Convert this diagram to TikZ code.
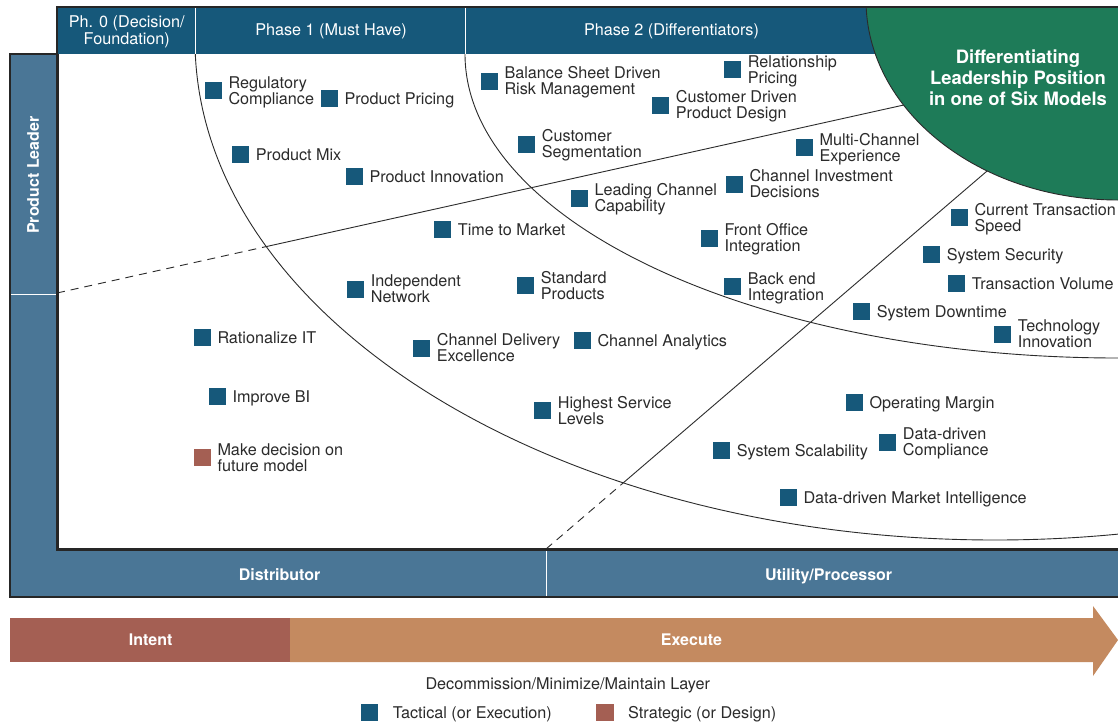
\documentclass[tikz,border=0pt]{standalone}
\usepackage{fontspec}
\setmainfont{TeX Gyre Heros}
\usetikzlibrary{calc}
\definecolor{hdr}{HTML}{16587A}
\definecolor{barc}{HTML}{4A7696}
\definecolor{grn}{HTML}{1E7B58}
\definecolor{tac}{HTML}{16587A}
\definecolor{strat}{HTML}{A45F53}
\definecolor{exe}{HTML}{C48A60}
\definecolor{ink}{HTML}{2B2B2B}
\definecolor{framec}{HTML}{262626}
\newcommand\lblfont{\fontsize{16.2}{16}\selectfont}
\newcommand\bdfont{\bfseries\fontsize{16}{16}\selectfont}
\newcommand\twoline[2]{\raisebox{8.2pt}{\vtop{\baselineskip=15.8pt\hbox{#1}\hbox{#2}}}}
\newcommand\ctwo[3]{\vtop{\baselineskip=#1\hbox to 200pt{\hfil#2\hfil}\hbox to 200pt{\hfil#3\hfil}}}
\newcommand\sqitem[5]{%
  \node[sq,fill=#4] (#1) at (#2,#3) {};
  \node[lbl] (#1-l) at ([xshift=15pt,yshift=-5.7pt]#1.center) {#5};}
\begin{document}
\begin{tikzpicture}[x=1pt,y=-1pt,
  sq/.style={rectangle,inner sep=0pt,minimum size=16.7pt,draw=none},
  lbl/.style={anchor=base west,inner sep=0pt,text=ink,font=\lblfont},
  hd/.style={anchor=base,inner sep=0pt,text=white,font=\lblfont},
  bd/.style={anchor=base,inner sep=0pt,text=white,font=\bdfont},
  region/.style={draw=ink,line width=0.9pt},
  dashedregion/.style={draw=ink,line width=0.9pt,dash pattern=on 8pt off 6pt},
  frameline/.style={draw=framec,line width=2.2pt},
  divider/.style={draw=white,line width=1pt}]
\fill[white] (0,0) rectangle (1118,723);
\useasboundingbox (0,0) rectangle (1118,723);
% bars
\fill[hdr] (57,7) rectangle (1118,54);
\fill[barc] (10,54) rectangle (57,597);
\fill[barc] (10,549) rectangle (1118,597);
% phase curves
\begin{scope}
  \clip (57,54) rectangle (1118,549);
  \draw[region] (995,40) ellipse [x radius=800pt, y radius=500pt];
  \draw[region] (1118,54) ellipse [x radius=653pt, y radius=304pt];
\end{scope}
% axis lines
\coordinate (cA) at (57,293);
\coordinate (cX) at (267,246.4);
\coordinate (cE) at (920,101.4);
\coordinate (dA) at (546,549);
\coordinate (dX) at (624,482.2);
\coordinate (dE) at (1000,159.9);
\draw[dashedregion] (cA) -- (cX);
\draw[region] (cX) -- (cE);
\draw[dashedregion] (dA) -- (dX);
\draw[region] (dX) -- (dE);
% green goal
\begin{scope}
  \clip (57,7.5) rectangle (1118,549);
  \draw[fill=grn,draw=ink,line width=0.9pt] (1118,0) ellipse [x radius=252pt, y radius=200pt];
\end{scope}
% dividers
\draw[divider] (195,7) -- (195,54);
\draw[divider] (465,7) -- (465,54);
\draw[divider] (10,294) -- (57,294);
\draw[divider] (546,549) -- (546,597);
% frame
\draw[frameline] (1118,7) -- (57,7) -- (57,54) -- (10,54) -- (10,597) -- (1118,597);
\draw[draw=framec,line width=3pt] (57,54) -- (57,549) -- (1118,549);
% header texts
\node[hd] (ph0) at (126.8,27.7) {\ctwo{16.3pt}{Ph. 0 (Decision/}{Foundation)}};
\node[hd] (ph1) at (331,35) {Phase 1 (Must Have)};
\node[hd] (ph2) at (671.5,35) {Phase 2 (Differentiators)};
\node[anchor=base,inner sep=0pt,text=white,font=\bfseries\fontsize{18.4}{21.5}\selectfont] (goal) at (1018,63.3)
  {\vtop{\baselineskip=21.3pt\hbox to 220pt{\hfil Differentiating\hfil}\hbox to 220pt{\hfil Leadership Position\hfil}\hbox to 220pt{\hfil in one of Six Models\hfil}}};
\node[inner sep=0pt,text=white,font=\bdfont,rotate=90] (pl) at (33,175) {Product Leader};
\node[bd] (dist) at (279.6,580.5) {Distributor};
\node[bd] (util) at (828.6,580.5) {Utility/Processor};
% items
\sqitem{reg}{213.3}{90.7}{tac}{\twoline{Regulatory}{Compliance}}
\sqitem{ppr}{329.3}{98.3}{tac}{Product Pricing}
\sqitem{pmx}{240.7}{154.3}{tac}{Product Mix}
\sqitem{pin}{354.3}{176.7}{tac}{Product Innovation}
\sqitem{ttm}{442.7}{229.7}{tac}{Time to Market}
\sqitem{ind}{355.7}{289.3}{tac}{\twoline{Independent}{Network}}
\sqitem{std}{525.7}{285.7}{tac}{\twoline{Standard}{Products}}
\sqitem{rit}{202.3}{337.3}{tac}{Rationalize IT}
\sqitem{cde}{421.7}{348.3}{tac}{\twoline{Channel Delivery}{Excellence}}
\sqitem{can}{582.3}{340.3}{tac}{Channel Analytics}
\sqitem{ibi}{217.3}{396.7}{tac}{Improve BI}
\sqitem{hsl}{542.7}{410.7}{tac}{\twoline{Highest Service}{Levels}}
\sqitem{mdf}{202.3}{457.7}{strat}{\twoline{Make decision on}{future model}}
\sqitem{bsd}{489.3}{81.3}{tac}{\twoline{Balance Sheet Driven}{Risk Management}}
\sqitem{rpr}{732.7}{69.7}{tac}{\twoline{Relationship}{Pricing}}
\sqitem{cdp}{660.7}{105.3}{tac}{\twoline{Customer Driven}{Product Design}}
\sqitem{csg}{526.7}{144.3}{tac}{\twoline{Customer}{Segmentation}}
\sqitem{mce}{804.3}{147.7}{tac}{\twoline{Multi-Channel}{Experience}}
\sqitem{lcc}{579.3}{198.3}{tac}{\twoline{Leading Channel}{Capability}}
\sqitem{cid}{734.3}{184.3}{tac}{\twoline{Channel Investment}{Decisions}}
\sqitem{foi}{709.3}{238.3}{tac}{\twoline{Front Office}{Integration}}
\sqitem{bei}{732.7}{286.7}{tac}{\twoline{Back end}{Integration}}
\sqitem{cts}{959.3}{217.7}{tac}{\twoline{Current Transaction}{Speed}}
\sqitem{sse}{931.7}{254.3}{tac}{System Security}
\sqitem{tvo}{956.7}{283.3}{tac}{Transaction Volume}
\sqitem{sdt}{861.7}{311.5}{tac}{System Downtime}
\sqitem{tin}{1002.7}{334.3}{tac}{\twoline{Technology}{Innovation}}
\sqitem{opm}{854.3}{402.3}{tac}{Operating Margin}
\sqitem{ddc}{887.7}{442.3}{tac}{\twoline{Data-driven}{Compliance}}
\sqitem{ssc}{721.7}{450.5}{tac}{System Scalability}
\sqitem{dmi}{788.3}{497.3}{tac}{Data-driven Market Intelligence}
% bottom arrow
\fill[strat] (10,618) rectangle (290,662);
\fill[exe] (290,618) -- (1093,618) -- (1093,606) -- (1118,640) -- (1093,676) -- (1093,662) -- (290,662) -- cycle;
\node[bd] (intent) at (150.7,645) {Intent};
\node[bd] (exec) at (691.4,645) {Execute};
\node[anchor=base,inner sep=0pt,text=ink,font=\lblfont] (layer) at (567.8,689) {Decommission/Minimize/Maintain Layer};
% legend
\node[rectangle,inner sep=0pt,minimum width=17.5pt,minimum height=17pt,fill=tac] (lg1) at (369.6,712.5) {};
\node[lbl] (lg1-l) at ([xshift=23pt,yshift=-5.7pt]lg1.center) {Tactical (or Execution)};
\node[rectangle,inner sep=0pt,minimum width=17.5pt,minimum height=17pt,fill=strat] (lg2) at (605,712.5) {};
\node[lbl] (lg2-l) at ([xshift=23pt,yshift=-5.7pt]lg2.center) {Strategic (or Design)};
\end{tikzpicture}
\end{document}
